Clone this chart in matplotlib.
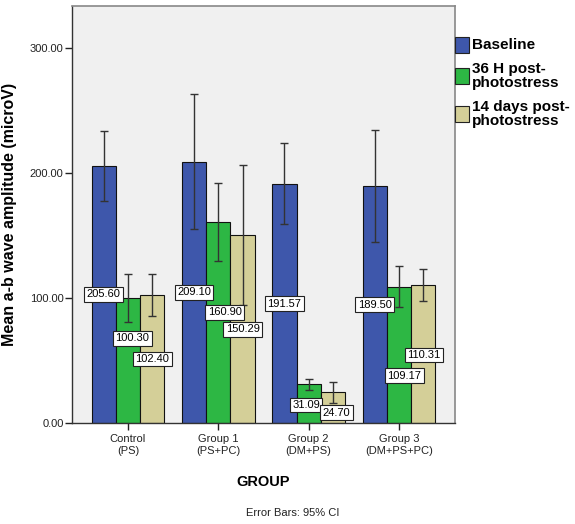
import numpy as np
import matplotlib
matplotlib.use("Agg")
import matplotlib.pyplot as plt
from matplotlib.patches import Rectangle

plt.rcParams['font.family'] = ['Liberation Sans', 'DejaVu Sans']

# data
groups = ['Control\n(PS)', 'Group 1\n(PS+PC)', 'Group 2\n(DM+PS)', 'Group 3\n(DM+PS+PC)']
series = ['Baseline', '36 H post-\nphotostress', '14 days post-\nphotostress']
baseline = [205.60, 209.10, 191.57, 189.50]
h36 = [100.30, 160.90, 31.09, 109.17]
d14 = [102.40, 150.29, 24.70, 110.31]
# 95% CI half widths
err_baseline = [28.0, 54.0, 32.5, 45.0]
err_h36 = [19.3, 31.0, 4.5, 16.7]
err_d14 = [17.0, 56.0, 8.3, 12.7]

colors = ['#3E57AB', '#2DB744', '#D4CF98']

# where SPSS put the value boxes (data y) and small x nudges
lab_y = [[103.0, 67.7, 51.2], [104.5, 88.5, 75.0], [95.4, 14.4, 8.3], [94.7, 37.9, 54.4]]
lab_dx = [[0, 0.05, 0], [0, 0.07, 0], [0, -0.03, 0.04], [0, 0.06, 0.01]]

fig = plt.figure(figsize=(5.75, 5.24), dpi=100)
ax = fig.add_axes([72/575, 1-423/524, (455-72)/575, (423-6)/524])
ax.set_facecolor('#F0F0F0')

x = np.arange(len(groups))
w = 0.268
vals = [baseline, h36, d14]
errs = [err_baseline, err_h36, err_d14]
for i in range(3):
    xs = x + (i-1)*w
    ax.bar(xs, vals[i], w, color=colors[i], edgecolor='#111111', linewidth=0.8, zorder=2)
    ax.errorbar(xs, vals[i], yerr=errs[i], fmt='none', ecolor='#333333',
                elinewidth=1.0, capsize=3, capthick=1.0, zorder=3)
    for j in range(len(groups)):
        ax.text(xs[j]+lab_dx[j][i], lab_y[j][i], '%.2f' % vals[i][j], ha='center', va='center',
                fontsize=8, zorder=4,
                bbox=dict(boxstyle='square,pad=0.22', fc='white', ec='#222222', lw=0.8))

ax.set_xlim(-0.619, 3.619)
ax.set_ylim(0, 333.6)
ax.set_yticks([0, 100, 200, 300])
ax.set_yticklabels(['0.00', '100.00', '200.00', '300.00'])
ax.set_xticks(x)
ax.set_xticklabels(groups, fontsize=8, color='#222222', linespacing=1.2)
ax.tick_params(axis='y', labelsize=8, length=5, width=1, pad=1, colors='#222222')
ax.tick_params(axis='x', length=5, width=1, pad=3, colors='#222222')
for s in ['left', 'bottom']:
    ax.spines[s].set_color('#333333')
    ax.spines[s].set_linewidth(1.0)
for s in ['top', 'right']:
    ax.spines[s].set_color('#888888')
    ax.spines[s].set_linewidth(1.2)

ax.set_ylabel('Mean a-b wave amplitude (microV)', fontsize=11.5, fontweight='bold')
ax.yaxis.set_label_coords((17-72)/383, 0.5)
ax.set_xlabel('GROUP', fontsize=10.5, fontweight='bold')
ax.xaxis.set_label_coords(0.5, -(482-423)/417)
ax.xaxis.label.set_va('center')

fig.text(293/575, 1-513/524, 'Error Bars: 95% CI', ha='center', va='center', fontsize=8, color='#222222')

# legend drawn by hand to match SPSS placement
patch_top = [37, 68, 106]
text_top = [38, 62, 100]
for i in range(3):
    fig.patches.append(Rectangle((455/575, 1-(patch_top[i]+15.5)/524), 14/575, 15.5/524,
                                 transform=fig.transFigure, fc=colors[i], ec='#222222', lw=0.8))
    fig.text(472/575, 1-text_top[i]/524, series[i], ha='left', va='top',
             fontsize=11, fontweight='bold', linespacing=1.0)

fig.savefig('out.png', dpi=100)
